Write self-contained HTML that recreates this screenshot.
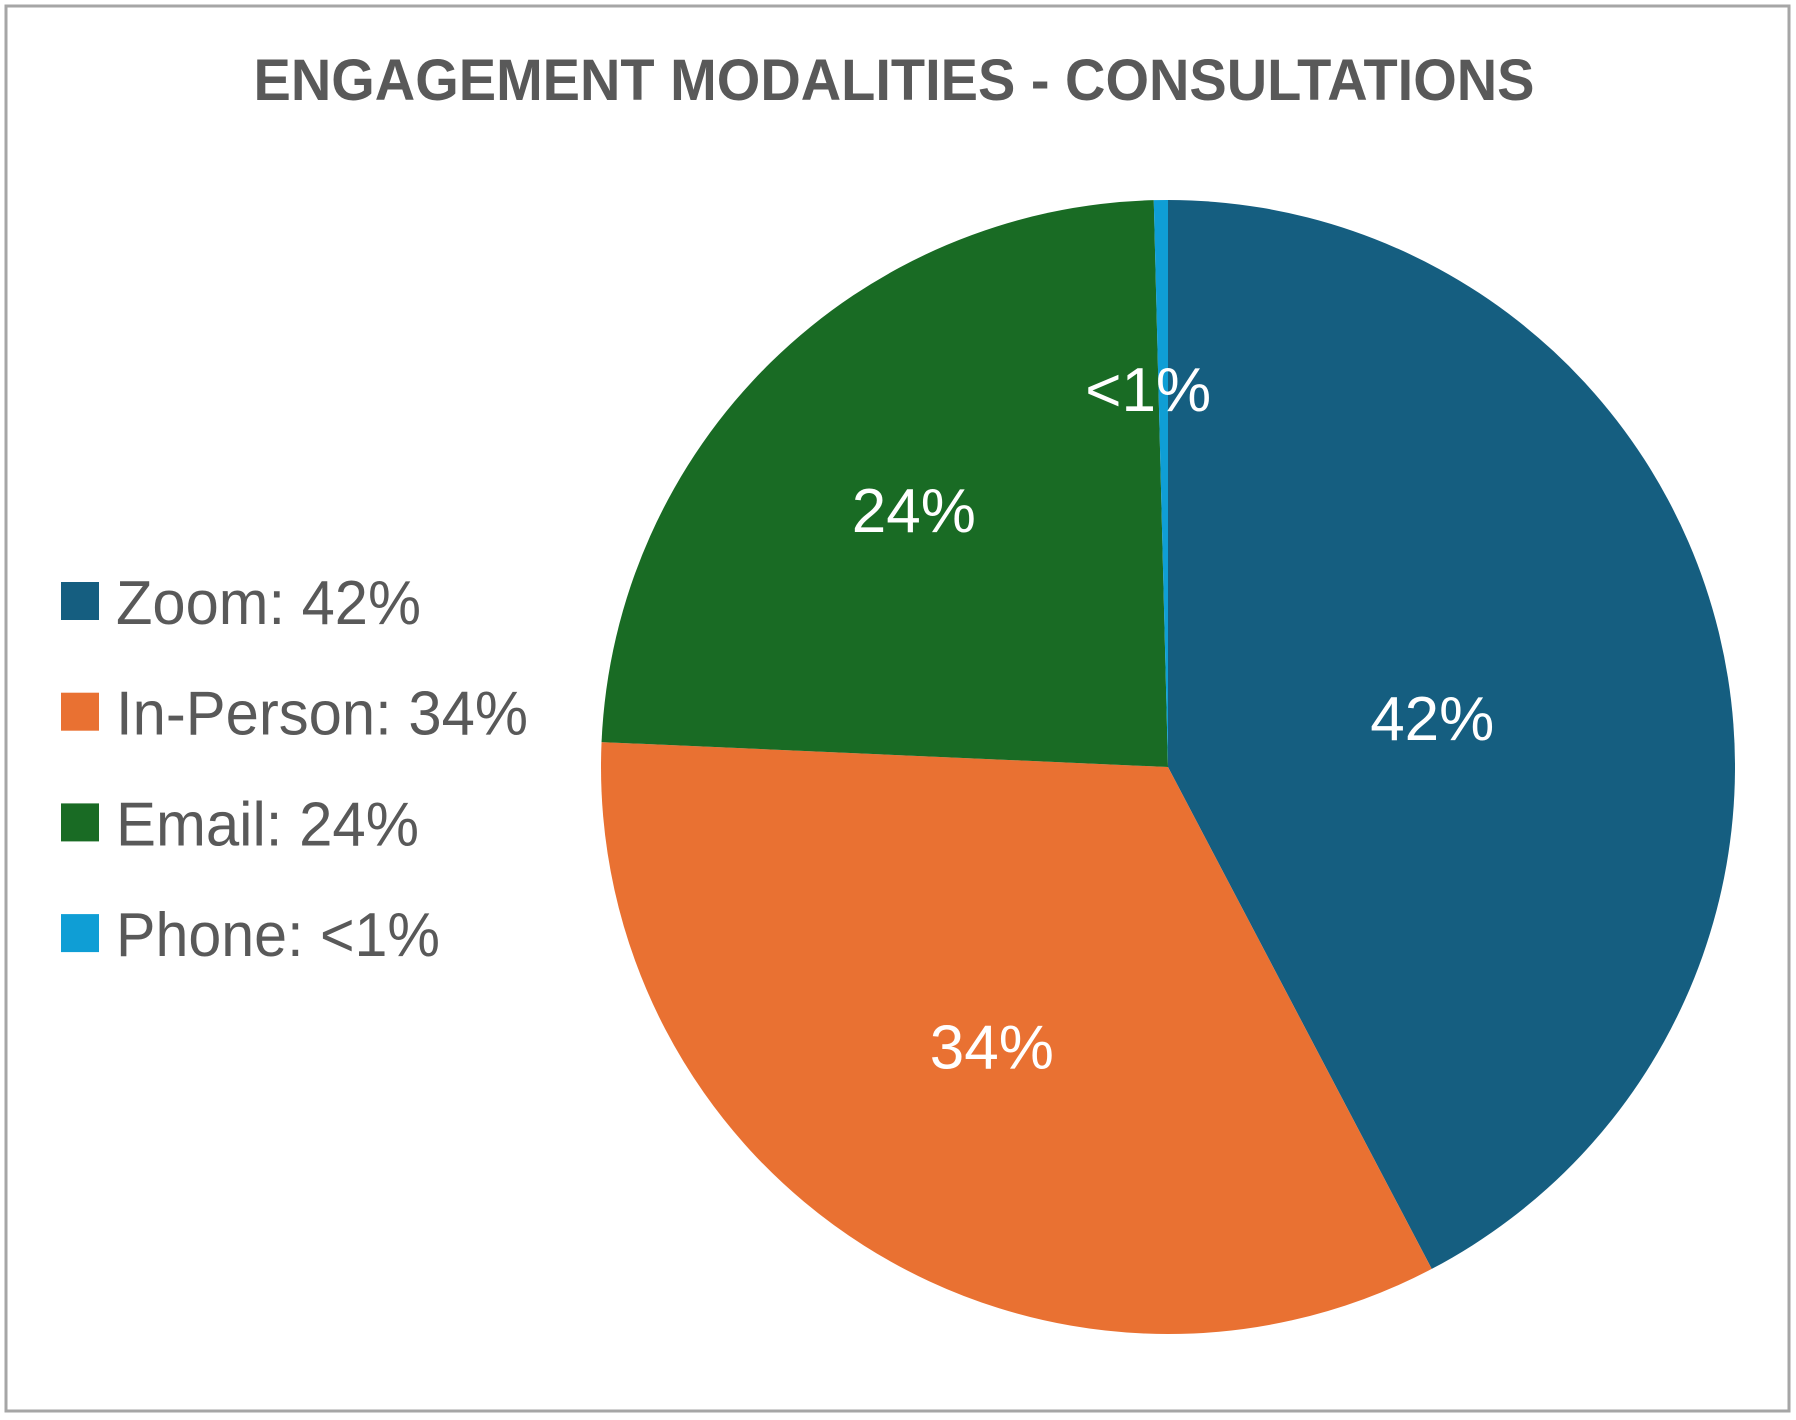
<!DOCTYPE html>
<html><head><meta charset="utf-8"><style>
html,body{margin:0;padding:0;background:#fff;}
svg{display:block;}
</style></head><body>
<svg id="chart" width="1796" height="1420" viewBox="0 0 1796 1420" xmlns="http://www.w3.org/2000/svg">
<rect x="6" y="6" width="1783" height="1405" fill="#fff" stroke="#a6a6a6" stroke-width="3"/>
<text x="894" y="100" text-anchor="middle" font-family="Liberation Sans, sans-serif" font-weight="bold" font-size="58" textLength="1281" lengthAdjust="spacingAndGlyphs" fill="#595959">ENGAGEMENT MODALITIES - CONSULTATIONS</text>
<g id="slices"></g>
<g id="labels"></g>
<g id="legend"></g>
</svg>
<script>
const categories = ["Zoom", "In-Person", "Email", "Phone"];
const values = [42.3, 33.4, 23.9, 0.4];
const valueLabels = ["42%", "34%", "24%", "<1%"];
const colors = ["#155e80", "#e97132", "#196b24", "#0f9ed5"];
const labelRadiusFrac = [0.48, 0.58, 0.64, 0.67];
const legendTextWidths = [305, 412, 303, 324];

const NS = "http://www.w3.org/2000/svg";
const cx = 1168, cy = 767, r = 567;
const total = values.reduce((a, b) => a + b, 0);
const slices = document.getElementById('slices');
const labels = document.getElementById('labels');
const legend = document.getElementById('legend');
function pt(a, rr) { return [cx + rr * Math.sin(a), cy - rr * Math.cos(a)]; }
let acc = 0;
values.forEach((v, i) => {
  const a0 = acc / total * 2 * Math.PI;
  acc += v;
  const a1 = acc / total * 2 * Math.PI;
  const p0 = pt(a0, r), p1 = pt(a1, r);
  const large = (a1 - a0) > Math.PI ? 1 : 0;
  const path = document.createElementNS(NS, 'path');
  path.setAttribute('d', `M${cx},${cy} L${p0[0]},${p0[1]} A${r},${r} 0 ${large} 1 ${p1[0]},${p1[1]} Z`);
  path.setAttribute('fill', colors[i]);
  
  
  slices.appendChild(path);

  const am = (a0 + a1) / 2;
  const lp = pt(am, r * labelRadiusFrac[i]);
  const t = document.createElementNS(NS, 'text');
  t.setAttribute('x', i === 3 ? lp[0] - 15 : lp[0]);
  t.setAttribute('y', lp[1] + (i === 0 ? 38 : 24));
  t.setAttribute('text-anchor', 'middle');
  t.setAttribute('font-family', 'Liberation Sans, sans-serif');
  t.setAttribute('font-size', '62');
  t.setAttribute('fill', '#ffffff');
  t.textContent = valueLabels[i];
  
  
  labels.appendChild(t);

  const ly = 601 + i * 110.7;
  const sq = document.createElementNS(NS, 'rect');
  sq.setAttribute('x', 61); sq.setAttribute('y', ly - 19);
  sq.setAttribute('width', 38); sq.setAttribute('height', 38);
  sq.setAttribute('fill', colors[i]);
  
  
  legend.appendChild(sq);
  const lt = document.createElementNS(NS, 'text');
  lt.setAttribute('x', 116); lt.setAttribute('y', ly + 23);
  lt.setAttribute('font-family', 'Liberation Sans, sans-serif');
  lt.setAttribute('font-size', '62');
  lt.setAttribute('textLength', legendTextWidths[i]);
  lt.setAttribute('lengthAdjust', 'spacingAndGlyphs');
  lt.setAttribute('fill', '#595959');
  lt.textContent = categories[i] + ': ' + valueLabels[i];
  
  
  legend.appendChild(lt);
});
</script>
</body></html>
